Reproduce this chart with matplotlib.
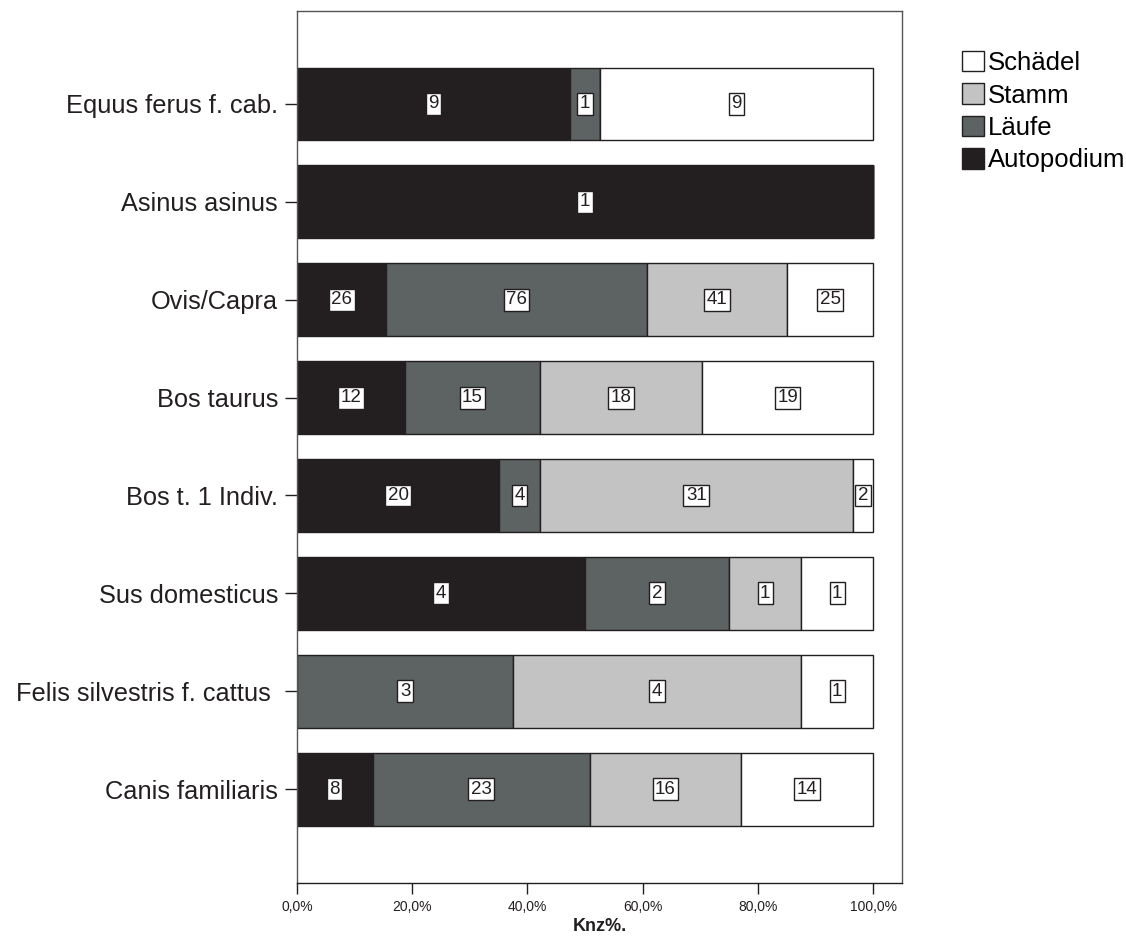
import matplotlib.pyplot as plt
import numpy as np
from matplotlib.patches import Patch

plt.rcParams['font.family'] = ['Liberation Sans', 'DejaVu Sans']

# counts per body region (Knz)
taxa = ["Equus ferus f. cab.", "Asinus asinus", "Ovis/Capra", "Bos taurus",
        "Bos t. 1 Indiv.", "Sus domesticus", "Felis silvestris f. cattus ", "Canis familiaris"]
autopodium = [9, 1, 26, 12, 20, 4, 0, 8]
laeufe = [1, 0, 76, 15, 4, 2, 3, 23]
stamm = [0, 0, 41, 18, 31, 1, 4, 16]
schaedel = [9, 0, 25, 19, 2, 1, 1, 14]

series = [("Autopodium", autopodium, "#231f20"),
          ("Läufe", laeufe, "#5d6263"),
          ("Stamm", stamm, "#c2c3c2"),
          ("Schädel", schaedel, "#ffffff")]

totals = np.array(autopodium) + np.array(laeufe) + np.array(stamm) + np.array(schaedel)

fig = plt.figure(figsize=(11.26, 9.41), dpi=100)
ax = fig.add_axes([297/1126, 1-883/941, (902-297)/1126, (883-11)/941])

y = np.arange(len(taxa))
left = np.zeros(len(taxa))
for name, vals, col in series:
    vals = np.array(vals)
    pct = vals / totals * 100
    ax.barh(y, pct, left=left, height=0.745, color=col, edgecolor="#231f20", linewidth=1)
    for i in range(len(taxa)):
        if vals[i] > 0:
            ax.text(left[i] + pct[i]/2, y[i], str(vals[i]), ha="center", va="center",
                    fontsize=13.5, color="#231f20",
                    bbox=dict(boxstyle="square,pad=0.13", fc="white", ec="#231f20", lw=1))
    left += pct

ax.set_ylim(7.96, -0.95)
ax.set_xlim(0, 105)
ax.set_yticks(y)
ax.set_yticklabels(taxa, fontsize=18.3, color="#231f20")
ax.set_xticks([0, 20, 40, 60, 80, 100])
ax.set_xticklabels(["0,0%", "20,0%", "40,0%", "60,0%", "80,0%", "100,0%"], fontsize=10, color="#231f20")
ax.tick_params(axis="y", length=8.6, width=1, color="#231f20", pad=5)
ax.tick_params(axis="x", length=8, width=1, color="#231f20", pad=4)
ax.set_xlabel("Knz%.", fontsize=13, fontweight="bold", color="#231f20", labelpad=3)
for s in ax.spines.values():
    s.set_color("#555555")
    s.set_linewidth(1)
ax.spines["bottom"].set_color("#231f20")

handles = [Patch(facecolor=c, edgecolor="#231f20", label=n) for n, v, c in series[::-1]]
fig.legend(handles=handles, loc="upper left", bbox_to_anchor=(962/1126, 1-51/941),
           frameon=False, fontsize=18.5, handlelength=0.85, handleheight=0.85,
           handletextpad=0.15, labelspacing=0.32, borderpad=0, borderaxespad=0)

fig.savefig("out.png", dpi=100)
